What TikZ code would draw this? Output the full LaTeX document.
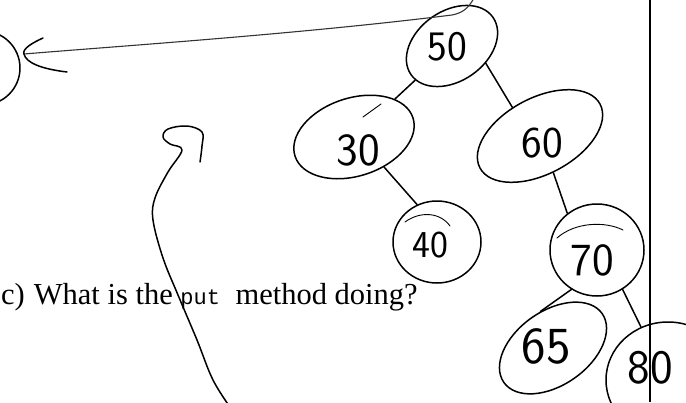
\documentclass[tikz,border=0pt]{standalone}
\usepackage{fontspec}
\setmainfont{Liberation Serif}
\setmonofont{Liberation Mono}
\usetikzlibrary{shapes.geometric}

\begin{document}
\begin{tikzpicture}[x=1pt,y=1pt,
  pen/.style={line width=1.5pt, line cap=round, line join=round},
  finepen/.style={line width=0.9pt, line cap=round, line join=round},
  faintpen/.style={line width=1.1pt, line cap=round, draw=black!80},
  bubble/.style={pen, draw, ellipse, inner sep=0pt},
  digits/.style={inner sep=0pt, font=\fontsize{#1}{#1}\selectfont\sffamily},
  rule/.style={line width=1.8pt}
]
\useasboundingbox (0,-402) rectangle (686,0);
\clip (0,-402) rectangle (686,0);

% printed question
\node[anchor=base west, inner sep=0pt, font=\fontsize{30.5}{36}\selectfont] (question) at (1,-304)
  {c)\hspace{9pt}What is the {\fontsize{22}{26}\selectfont\ttfamily put}\hspace{8pt} method doing?};

% tree nodes (hand-drawn ovals)
\node[bubble, minimum width=100pt, minimum height=70pt, rotate=35] (n50) at (452,-46) {};
\node[bubble, minimum width=124pt, minimum height=78pt, rotate=18] (n30) at (354,-137) {};
\node[bubble, minimum width=136pt, minimum height=76pt, rotate=28] (n60) at (540,-136) {};
\node[bubble, minimum width=88pt, minimum height=82pt] (n40) at (437,-242) {};
\node[bubble, minimum width=94pt, minimum height=92pt] (n70) at (597,-250) {};
\node[bubble, minimum width=120pt, minimum height=74pt, rotate=35] (n65) at (553,-348) {};
\node[bubble, minimum width=124pt, minimum height=116pt] (n80) at (668,-380) {};

% keys
\node[digits=42] (t50) at (447,-47) {50};
\node[digits=46] (t30) at (358,-150) {30};
\node[digits=44] (t60) at (542,-143) {60};
\node[digits=38] (t40) at (430,-245) {40};
\node[digits=46] (t70) at (592,-260) {70};
\node[digits=52] (t65) at (546,-346) {65};
\node[digits=48] (t80) at (650,-368) {80};

% tree edges
\draw[pen] (n50) -- (n30);
\draw[pen] (n50.-62) -- (n60.106);
\draw[pen] (n30.-63) -- (n40.118);
\draw[pen] (n60.-98) -- (n70.129);
\draw[pen] (n70.237) -- (n65.74);
\draw[pen] (n70.-57) -- (n80.117);

% second strokes inside some ovals
\draw[finepen] (405,-222) .. controls (420,-211) and (440,-212) .. (450,-226);
\draw[finepen] (557,-238) .. controls (575,-222) and (605,-221) .. (623,-230);
\draw[finepen] (363,-117) -- (381,-104);

% partial circle at the left edge
\node[bubble, circle, minimum size=74pt] (edgecircle) at (-17,-68) {};

% long arrow from the top edge to the left circle
\coordinate (topstart) at (474,2);
\coordinate (tip) at (24,-54);
\draw[faintpen] (topstart) .. controls (468,-9) and (462,-13) .. (452,-15)
  .. controls (300,-34) and (120,-46) .. (tip);
\draw[pen] (43,-38) .. controls (32,-43) and (22,-49) .. (tip)
  .. controls (26,-63) and (42,-69) .. (67,-72);

% curved stroke from the bottom edge ending in a hook
\coordinate (bottomstart) at (232,-410);
\draw[pen] plot[smooth, tension=0.6] coordinates {
  (bottomstart) (213,-380) (197,-340) (178,-295) (163,-258) (153,-220)
  (155,-198) (168,-172) (182,-150) (170,-144) (163,-137) (168,-129)
  (187,-126) (202,-132) (202,-146) (200,-162)};

% page rule
\coordinate (ruletop) at (650,0);
\coordinate (rulebottom) at (650,-402);
\draw[rule] (ruletop) -- (rulebottom);
\end{tikzpicture}
\end{document}
